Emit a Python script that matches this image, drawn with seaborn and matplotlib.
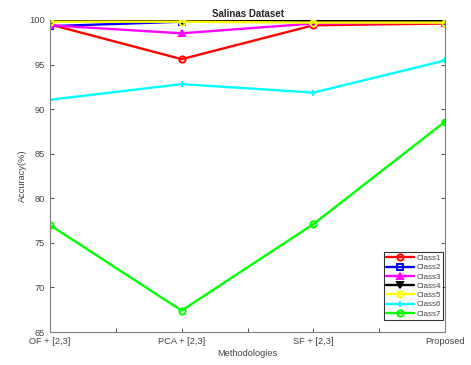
import matplotlib
matplotlib.use("Agg")
import matplotlib.pyplot as plt
import seaborn as sns
import pandas as pd

methods = ["OF + [2,3]", "PCA + [2,3]", "SF + [2,3]", "Proposed"]
classes = ["Class1", "Class2", "Class3", "Class4", "Class5", "Class6", "Class7"]
class1 = [99.5, 95.6, 99.4, 99.6]
class2 = [99.3, 99.8, 99.8, 99.8]
class3 = [99.4, 98.5, 99.6, 99.7]
class4 = [99.9, 99.9, 99.9, 99.9]
class5 = [99.8, 99.8, 99.7, 99.7]
class6 = [91.05, 92.8, 91.85, 95.45]
class7 = [77.0, 67.4, 77.1, 88.6]
values = [class1, class2, class3, class4, class5, class6, class7]

colors = ["#ff0000", "#0000ff", "#ff00ff", "#000000", "#ffff00", "#00ffff", "#00ff00"]
markers = ["o", "s", "^", "v", "o", "+", "o"]
filled = [False, False, True, True, False, False, False]

sns.set_theme(style="white")
plt.rcParams['font.family'] = ['Liberation Sans', 'DejaVu Sans']

rows = []
for c, v in zip(classes, values):
    for i, a in enumerate(v):
        rows.append({"x": i, "acc": a, "Class": c})
df = pd.DataFrame(rows)

fig = plt.figure(figsize=(4.71, 3.65), dpi=100)
ax = fig.add_axes([0.106, 0.0904, 0.839, 0.855])

for c, col, m, f in zip(classes, colors, markers, filled):
    sub = df[df["Class"] == c]
    kw = dict(markerfacecolor=col if f else "none", markeredgecolor=col,
              markeredgewidth=1.4, markersize=4.5)
    sns.lineplot(data=sub, x="x", y="acc", ax=ax, color=col, marker=m,
                 linewidth=1.7, label=c, **kw)

ax.set_xlim(0, 3)
ax.set_ylim(65, 100)
xt = [0, 0.5, 1, 1.5, 2, 2.5, 3]
ax.set_xticks(xt)
ax.set_xticklabels([methods[0], "", methods[1], "", methods[2], "", methods[3]])
ax.set_yticks(range(65, 101, 5))
gray = "#808080"
for s in ax.spines.values():
    s.set_color(gray)
    s.set_linewidth(0.8)
ax.spines["top"].set_visible(False)
ax.tick_params(axis="both", direction="in", length=3, width=0.6, color="#333333",
               labelsize=6.7, labelcolor="#444444", right=True, left=True, bottom=True)
ax.set_xlabel("Methodologies", fontsize=6.7, color="#444444", labelpad=2)
ax.set_ylabel("Accuracy(%)", fontsize=6.7, color="#444444", labelpad=2)
ax.set_title("Salinas Dataset", fontsize=7, fontweight="bold", pad=2)

leg = ax.legend(loc="lower right", bbox_to_anchor=(0.995, 0.038), fontsize=5.8,
                frameon=True, fancybox=False, edgecolor="black", borderpad=0.3,
                labelspacing=0.2, handlelength=3.4, handletextpad=0.3, borderaxespad=0.0)
leg.get_frame().set_linewidth(0.8)
for t in leg.get_texts():
    t.set_color("#444444")

fig.savefig("out.png", dpi=100)
